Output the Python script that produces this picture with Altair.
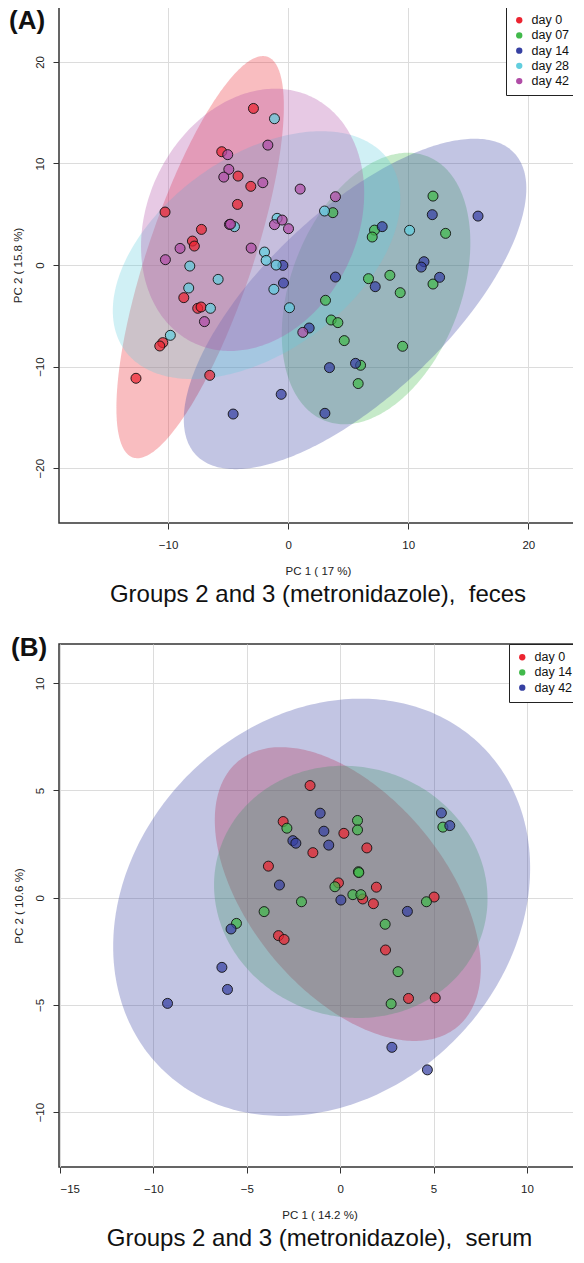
import altair as alt
import numpy as np
import pandas as pd

FONT = "Liberation Sans"

# ---------------- Panel A : feces ----------------
A_groups = ["day 0", "day 07", "day 14", "day 28", "day 42"]
A_colors = ["#EC2430", "#41B94B", "#3640A2", "#62CEDE", "#B04CA6"]

a_d0_x = [-2.89, -5.53, -4.17, -3.11, -4.22, -10.25, -7.22, -7.97, -7.81, -8.69, -7.53, -7.25, -10.44, -10.69, -12.67, -6.53]
a_d0_y = [15.42, 11.16, 8.76, 7.75, 5.97, 5.22, 3.51, 2.36, 1.87, -3.21, -4.26, -4.13, -7.64, -7.97, -11.15, -10.86]
a_d07_x = [3.72, 12.06, 13.11, 7.19, 7.00, 12.06, 6.69, 8.47, 9.33, 3.11, 3.58, 4.14, 4.67, 9.53, 6.03, 5.83]
a_d07_y = [5.16, 6.79, 3.12, 3.44, 2.76, -1.87, -1.34, -1.01, -2.72, -3.47, -5.41, -5.67, -7.44, -8.00, -9.87, -11.67]
a_d14_x = [-0.44, -0.39, -0.58, -4.58, 1.75, 12.00, 15.81, 7.83, 11.31, 11.08, 12.61, 3.94, 7.25, 3.44, 5.61, 3.06]
a_d14_y = [-0.03, -1.77, -12.73, -14.67, -6.20, 4.96, 4.82, 3.78, 0.33, -0.20, -1.21, -1.18, -2.13, -10.10, -9.68, -14.60]
a_d28_x = [-1.14, -4.47, -0.92, -1.97, -1.83, -1.00, -8.19, -5.83, -1.19, -8.28, -6.47, -9.81, 0.11, 3.03, 10.11]
a_d28_y = [14.41, 3.78, 4.60, 1.28, 0.46, 0.00, -0.10, -1.41, -2.39, -2.26, -4.26, -6.92, -4.20, 5.32, 3.42]
a_d42_x = [-5.03, -1.69, -4.94, -5.36, -2.11, 1.00, -4.89, -4.80, -1.14, -0.50, 0.03, -9.00, -3.08, -10.22, -6.97, 1.22, 3.94]
a_d42_y = [10.87, 11.81, 9.42, 8.66, 8.11, 7.48, 4.00, 4.02, 3.98, 4.43, 3.58, 1.64, 1.67, 0.53, -5.57, -6.63, 6.73]

# ellipse: centre, half-width, half-height, x-offset of topmost point
A_ell_cx = [-7.33, 7.32, 5.57, -2.63, -2.96]
A_ell_cy = [0.78, -2.31, -3.83, 0.98, 4.45]
A_ell_hx = [6.97, 7.85, 14.26, 11.97, 9.29]
A_ell_hy = [19.80, 13.37, 16.27, 12.20, 12.91]
A_ell_top = [5.23, 2.65, 9.96, 5.38, 1.88]

A_xticks = [-10, 0, 10, 20]
A_yticks = [-20, -10, 0, 10, 20]

# ---------------- Panel B : serum ----------------
B_groups = ["day 0", "day 14", "day 42"]
B_colors = ["#EC2430", "#41B94B", "#3640A2"]

b_d0_x = [-3.05, -3.84, -3.30, -3.00, 0.20, 1.43, -1.46, -0.09, 1.94, 1.21, 1.78, 2.43, 3.66, -1.61, 5.03, 5.09]
b_d0_y = [3.55, 1.47, -1.77, -1.95, 3.00, 2.32, 2.10, 0.69, 0.49, -0.06, -0.28, -2.44, -4.70, 5.23, 0.03, -4.67]
b_d14_x = [-2.85, -2.07, -4.07, -5.55, 0.93, 0.93, 0.98, 1.00, -0.28, 0.68, 1.11, 2.41, 3.10, 2.73, 4.62, 5.50]
b_d14_y = [3.24, -0.19, -0.65, -1.20, 3.60, 3.16, 1.21, 1.17, 0.51, 0.14, 0.14, -1.24, -3.45, -4.95, -0.19, 3.29]
b_d42_x = [-2.53, -2.37, -3.25, -5.84, -6.33, -6.03, -9.24, -1.07, -0.87, -0.61, 0.04, 3.60, 5.42, 5.87, 2.77, 4.67]
b_d42_y = [2.66, 2.54, 0.59, -1.46, -3.25, -4.28, -4.93, 3.94, 3.10, 2.45, -0.11, -0.64, 3.95, 3.36, -6.98, -8.03]

B_ell_cx = [0.41, 0.57, -0.99]
B_ell_cy = [0.17, 0.27, -0.45]
B_ell_hx = [7.12, 7.32, 11.16]
B_ell_hy = [6.85, 5.88, 9.73]
B_ell_top = [-3.58, -0.40, 2.10]

B_xticks = [-15, -10, -5, 0, 5, 10]
B_yticks = [-10, -5, 0, 5, 10]


def ellipse_band(cx, cy, hx, hy, top, n=160):
    t = np.linspace(np.pi, 0, n)
    u = hx * np.cos(t)
    slope = top * hy / hx ** 2
    s = hy * np.sqrt(1 - (top / hx) ** 2)
    half = s * np.sqrt(np.clip(1 - (u / hx) ** 2, 0, None))
    return cx + u, cy + slope * u + half, cy + slope * u - half


def panel(key, groups, colors, xs, ys, ell, xdom, ydom, xticks, yticks,
          xtitle, ytitle, subtitle, label, w, h, label_x, label_y, ytpad):
    gf = "grp" + key
    xsc = alt.Scale(domain=xdom, nice=False, zero=False)
    ysc = alt.Scale(domain=ydom, nice=False, zero=False)
    xax = alt.Axis(values=xticks, title=xtitle, grid=True, domain=False,
                   tickSize=6, labelPadding=10, titlePadding=15, format="d")
    yax = alt.Axis(values=yticks, title=ytitle, grid=True, domain=False,
                   tickSize=6, labelPadding=8, labelAngle=-90, labelAlign="center",
                   labelBaseline="bottom", titlePadding=ytpad, format="d")
    cscale = alt.Scale(domain=groups, range=colors)
    legend = alt.Legend(title=None, orient="top-right", offset=0, fillColor="white",
                        strokeColor="#222222", padding=7, symbolType="circle",
                        symbolSize=40, symbolStrokeWidth=0, symbolOpacity=1,
                        labelFont=FONT, labelFontSize=12.5, labelColor="#111111",
                        rowPadding=2.2, labelOffset=6)
    layers = []
    cx, cy, hx, hy, tp = ell
    for i, g in enumerate(groups):
        ex, ey1, ey2 = ellipse_band(cx[i], cy[i], hx[i], hy[i], tp[i])
        edf = pd.DataFrame({"x": ex, "y1": ey1, "y2": ey2, gf: g})
        layers.append(
            alt.Chart(edf).mark_area(fillOpacity=0.3, strokeWidth=0, clip=True,
                                     orient="vertical", interpolate="linear")
            .encode(x=alt.X("x:Q", scale=xsc, axis=xax),
                    y=alt.Y("y1:Q", scale=ysc, axis=yax, stack=None),
                    y2="y2:Q",
                    color=alt.Color(gf + ":N", scale=cscale, legend=legend))
        )
    rows = []
    for g, px, py in zip(groups, xs, ys):
        for a, b in zip(px, py):
            rows.append({gf: g, "x": a, "y": b})
    pdf = pd.DataFrame(rows)
    layers.append(
        alt.Chart(pdf).mark_circle(size=100, stroke="#111111", strokeWidth=0.9,
                                   fillOpacity=0.72, opacity=1)
        .encode(x=alt.X("x:Q", scale=xsc, axis=xax),
                y=alt.Y("y:Q", scale=ysc, axis=yax),
                color=alt.Color(gf + ":N", scale=cscale, legend=legend))
    )
    ldf = pd.DataFrame({"t": [label]})
    layers.append(
        alt.Chart(ldf).mark_text(font=FONT, fontSize=26, fontWeight="bold",
                                 align="left", baseline="top", color="#111111")
        .encode(x=alt.value(label_x), y=alt.value(label_y), text="t:N")
    )
    return alt.layer(*layers).properties(
        width=w, height=h,
        title=alt.TitleParams(text=subtitle, orient="bottom", anchor="middle",
                              font=FONT, fontSize=24, fontWeight="normal",
                              color="#111111", offset=6)
    )


chartA = panel("A", A_groups, A_colors,
               [a_d0_x, a_d07_x, a_d14_x, a_d28_x, a_d42_x],
               [a_d0_y, a_d07_y, a_d14_y, a_d28_y, a_d42_y],
               (A_ell_cx, A_ell_cy, A_ell_hx, A_ell_hy, A_ell_top),
               [-19.08, 24.05], [-25.4, 25.41], A_xticks, A_yticks,
               "PC 1 ( 17 %)", "PC 2 ( 15.8 %)",
               "Groups 2 and 3 (metronidazole),\u00a0 feces", "(A)",
               518, 516, -50, 1, 11)

chartB = panel("B", B_groups, B_colors,
               [b_d0_x, b_d14_x, b_d42_x],
               [b_d0_y, b_d14_y, b_d42_y],
               (B_ell_cx, B_ell_cy, B_ell_hx, B_ell_hy, B_ell_top),
               [-15.05, 12.84], [-12.56, 11.83], B_xticks, B_yticks,
               "PC 1 ( 14.2 %)", "PC 2 ( 10.6 %)",
               "Groups 2 and 3 (metronidazole),\u00a0 serum", "(B)",
               521, 523, -48, -9, 10)

chart = alt.concat(chartA, chartB, columns=1, spacing=26, align="none",
                   padding={"top": -3, "left": 0, "right": -9, "bottom": 0}
).resolve_scale(
    x="independent", y="independent", color="independent"
).resolve_legend(
    color="independent"
).configure_view(
    stroke="#333333", strokeWidth=1.5
).configure_axis(
    labelFont=FONT, titleFont=FONT, labelFontSize=11.5, titleFontSize=11.5,
    labelColor="#222222", titleColor="#222222", titleFontWeight="normal",
    tickColor="#333333", gridColor="#DCDCDC", gridWidth=1
)

chart.save("out.html", embed_options={"renderer": "svg", "actions": False})
